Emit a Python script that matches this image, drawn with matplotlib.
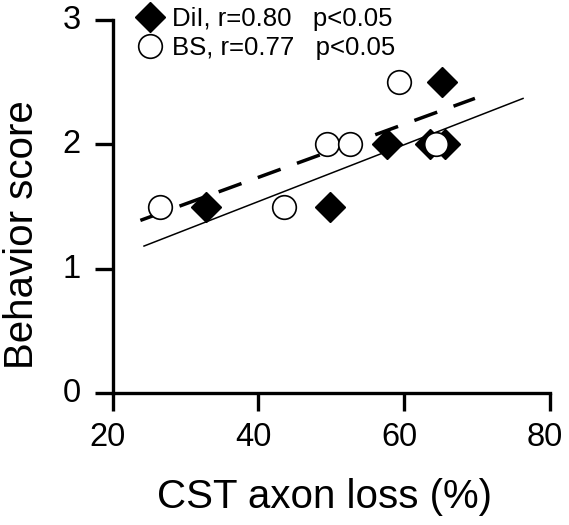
import matplotlib
matplotlib.use('Agg')
import matplotlib.pyplot as plt
import matplotlib.transforms as mtransforms
from matplotlib.lines import Line2D

plt.rcParams['font.family'] = ['Liberation Sans', 'DejaVu Sans']

# data
dil_x = [32.8, 49.8, 57.7, 63.6, 65.6, 65.2]
dil_y = [1.5, 1.5, 2.0, 2.0, 2.0, 2.5]
bs_x = [26.5, 43.5, 49.4, 52.6, 59.3, 64.4]
bs_y = [1.5, 1.5, 2.0, 2.0, 2.5, 2.0]

# regression lines (slope, intercept, x range)
dil_fit = (0.0228, 0.630, [24.3, 76.3])
bs_fit = (0.02135, 0.882, [23.8, 69.7])

dil_label = 'DiI, r=0.80   p<0.05'
bs_label = 'BS, r=0.77   p<0.05'

fig = plt.figure(figsize=(5.69, 5.25), dpi=100)
ax = fig.add_axes([0.198, 0.2505, 0.7686, 0.7115])

# fit lines
fx = dil_fit[2]
ax.plot(fx, [dil_fit[0] * v + dil_fit[1] for v in fx], color='black', lw=1.1)
fx = bs_fit[2]
ax.plot(fx, [bs_fit[0] * v + bs_fit[1] for v in fx], color='black', lw=2.5,
        dashes=(7, 5))

# points
ax.plot(dil_x, dil_y, 'D', color='black', ms=15.5, mec='black', ls='none')
ax.plot(bs_x, bs_y, 'o', mfc='white', mec='black', mew=1.2, ms=17, ls='none')

ax.set_xlim(20, 80)
ax.set_ylim(0, 3)
ax.set_xticks([20, 40, 60, 80])
ax.set_yticks([0, 1, 2, 3])
for s in ['top', 'right']:
    ax.spines[s].set_visible(False)
for s in ['left', 'bottom']:
    ax.spines[s].set_linewidth(2.4)
ax.tick_params(axis='both', width=2.4, length=13, labelsize=23.5)
ax.tick_params(axis='x', pad=7.5)
ax.tick_params(axis='y', pad=10)

off = mtransforms.ScaledTranslation(-5 / 100, 0, fig.dpi_scale_trans)
for lab in ax.get_xticklabels():
    lab.set_transform(lab.get_transform() + off)
off_y = mtransforms.ScaledTranslation(0, 3 / 100, fig.dpi_scale_trans)
for lab in ax.get_yticklabels():
    lab.set_transform(lab.get_transform() + off_y)

ax.set_xlabel('CST axon loss (%)', fontsize=29, va='center')
ax.xaxis.set_label_coords(0.485, -0.278)
ax.set_ylabel('Behavior score', fontsize=29, va='center')
ax.yaxis.set_label_coords(-0.208, 0.424)

handles = [Line2D([], [], marker='D', color='black', ms=15.5, ls='none'),
           Line2D([], [], marker='o', mfc='white', mec='black', mew=1.2,
                  ms=17, ls='none')]
ax.legend(handles, [dil_label, bs_label], loc='upper left',
          bbox_to_anchor=(137 / 569, 1 - 7 / 525), bbox_transform=fig.transFigure,
          frameon=False, fontsize=18.5, handlelength=1.0, handletextpad=0.35,
          labelspacing=0.18, borderpad=0, borderaxespad=0)

fig.savefig('out.png', dpi=100)
